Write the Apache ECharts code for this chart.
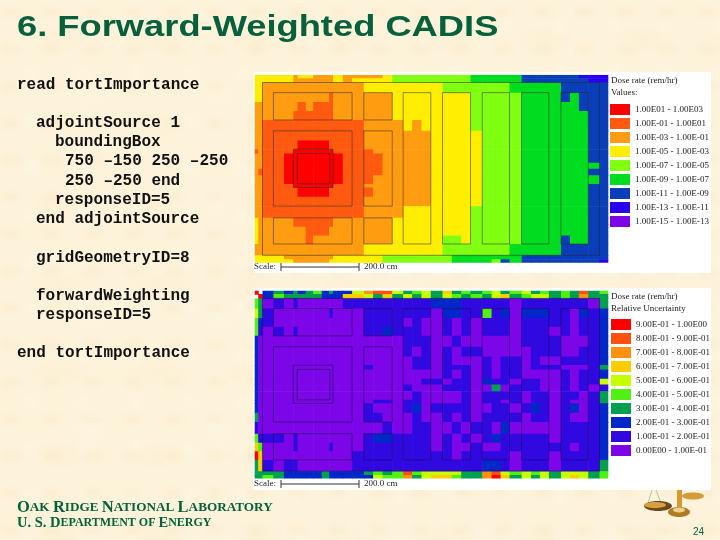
<!DOCTYPE html>
<html>
<head>
<meta charset="utf-8">
<title>Forward-Weighted CADIS</title>
<script src="https://cdn.jsdelivr.net/npm/echarts@6/dist/echarts.min.js"></script>
<style>
  html, body { margin: 0; padding: 0; }
  body {
    background-color: #fdf2da;
    background-image:
      radial-gradient(ellipse 14px 8px at 10px 12px, rgba(246, 222, 178, .22), transparent),
      radial-gradient(ellipse 10px 14px at 30px 26px, rgba(255, 252, 238, .28), transparent),
      radial-gradient(ellipse 30px 14px at 60px 40px, rgba(250, 230, 190, .2), transparent),
      radial-gradient(ellipse 24px 30px at 90px 90px, rgba(255, 250, 232, .25), transparent);
    background-size: 41px 37px, 53px 47px, 97px 83px, 131px 113px;
  }
  #chart { width: 720px; height: 540px; }
</style>
</head>
<body>
<div id="chart"></div>
<script>
// mesh edges in cm
const xEdges = [0, 9, 20, 48, 75, 99, 110, 131, 150, 172, 191, 201, 226, 250, 280, 304, 328, 353, 381, 404,
  428, 452, 482, 506, 530, 554, 584, 608, 631, 654, 685, 709, 732, 755, 786, 809, 832, 856, 885, 906]
const yEdges = [0, 9, 20, 46, 70, 93, 116, 144, 169, 191, 202, 226, 241, 258, 280, 289, 313, 337, 367, 390,
  412, 434, 463, 473, 482]

// dose rate class per mesh cell, one string per row (0 = lowest, 8 = highest), spaces only for reading
const doseRows = [
  '55555 6 55 666 5 6666 5 4 4444444 33333 222222 111',
  '55555 666666 56 5555 44444444 33333 222222 211',
  '55 666666666666 55555555 4444444 33333 22222',
  '55 66666666 7 666 666 5 5555 555 4444 4 333 3 2 3 2 22',
  '66 666 6 7 6 777 666 666 5 5555 555 44444 3333 33 2 22',
  '66 666 777777 666 666 5 5555 555 44444 3333 333 22',
  '66 777777777777 666 6 5 6 5 5 555 4 4444 3333 333 22',
  '66 777777777777 666 6 666 5 555 5 4444 3333 333 22',
  '66 7777 8888 7777 666 6 666 5 555 5 4444 3333 333 22',
  '76 777 888888 777 7 66 6 666 5 555 5 4444 3333 333 22',
  '66 77 88888888 77 77 6 6 666 5 555 5 4444 3333 333 22',
  '66 77 88888888 77 77 6 6 666 5 555 5 4444 3333 333 32',
  '67 77 88888888 77 77 6 6 666 5 555 5 4444 3333 333 22',
  '66 77 88888888 77 7 6 6 6 666 5 555 5 4444 3333 333 32',
  '66 777 888888 777 666 6 666 5 555 5 4444 3333 333 22',
  '66 7777 8888 7777 7 66 6 666 5 555 5 4444 3333 333 22',
  '66 777777777777 666 6 666 5 555 5 4444 3333 333 22',
  '66 777777777777 666 6 555 5 555 4 4444 3333 333 22',
  '56 666 777777 666 666 5 555 5 555 4 4444 3333 333 22',
  '56 6666 6 777 6 666 666 5 555 5 555 4 4444 3333 333 22',
  '56 66666 7 666 666 666 5 555 5 44 5 4 4444 3333 2 33 22',
  '66 666666666666 55555555 4444444 33333 22222',
  '5555 6666666 555 55 444444 4 33333 3 3 222222 222',
  '5555 5666665 555 55 4444444 33 33 4 2 3 222222 22 1'
]

// relative uncertainty class per mesh cell (0 = lowest, 9 = highest, x = no tally)
const errorRows = [
  '9x23232342 3225788534 5363434534 534343834',
  'x924333332 2266536353 5354343563 455343733',
  '4301010000 0011111111 1222111110 111111103',
  '5310000000 1000111111 1022114120 222110212',
  '4210000000 0000111101 0010101110 111110112',
  '4101010000 0000112111 0010101110 111010112',
  '2000000000 0000000011 1001000000 111100012',
  '2000000000 0000000010 1010110000 011100112',
  '2000000000 0000000001 1010001011 010011112',
  '2000000000 0000100001 1011101011 011100013',
  '2000000000 0000000000 0010101011 000010112',
  '2000000000 0000000000 1101102110 110010115',
  '2000000000 0000000010 0011100301 110010101',
  '2000000000 0000000001 0000101111 011011013',
  '2000000000 0000011011 0000101101 011010013',
  '2000000000 0000100012 0111100110 121012012',
  '3000000000 0000110001 0010101111 011010012',
  '1000000000 0000001001 1001011020 000011112',
  '4111010000 0000122111 1010101211 111011112',
  '6400010000 1000111111 1010010011 111110112',
  '9600000000 0001111111 1110111110 111011112',
  '3610110000 0001111111 1111112210 111011113',
  '3333222223 2222343484 5555337854 545355534',
  '3343222223 2222254473 5664337963 535356534'
]

// geometry outlines in cm: x0, x1, y0, y1
const geometryBoxes = [
  [20, 885, 20, 463],
  [48, 250, 46, 116], [280, 353, 46, 116],
  [48, 250, 144, 337], [280, 353, 144, 337],
  [48, 250, 367, 434], [280, 353, 367, 434],
  [381, 452, 46, 434], [482, 554, 46, 434], [584, 654, 46, 434],
  [685, 755, 46, 434], [786, 856, 46, 434],
  [99, 201, 191, 289], [109, 193, 202, 280]
]

const doseLabels = ['1.00E-15 - 1.00E-13', '1.00E-13 - 1.00E-11', '1.00E-11 - 1.00E-09', '1.00E-09 - 1.00E-07',
  '1.00E-07 - 1.00E-05', '1.00E-05 - 1.00E-03', '1.00E-03 - 1.00E-01', '1.00E-01 - 1.00E01', '1.00E01 - 1.00E03']
const doseColors = ['#7c06e8', '#2a00f0', '#0a3eb8', '#00dd20', '#80ff10', '#ffee00', '#ff9c10', '#ff5a10', '#ff0000']

const errorLabels = ['0.00E00 - 1.00E-01', '1.00E-01 - 2.00E-01', '2.00E-01 - 3.00E-01', '3.00E-01 - 4.00E-01',
  '4.00E-01 - 5.00E-01', '5.00E-01 - 6.00E-01', '6.00E-01 - 7.00E-01', '7.00E-01 - 8.00E-01',
  '8.00E-01 - 9.00E-01', '9.00E-01 - 1.00E00']
const errorColors = ['#7c06e8', '#3008e0', '#0028c8', '#00a050', '#50f010', '#c8ff00', '#ffcc00', '#ff9010', '#ff5010', '#ff0000']

const codeLines = [
  ['read tortImportance', 17, 85],
  ['adjointSource 1', 36, 123],
  ['boundingBox', 55, 142],
  ['750 \u2013150 250 \u2013250', 65, 161],
  ['250 \u2013250 end', 65, 181],
  ['responseID=5', 55, 200],
  ['end adjointSource', 36, 219],
  ['gridGeometryID=8', 36, 258],
  ['forwardWeighting', 36, 296],
  ['responseID=5', 36, 315],
  ['end tortImportance', 17, 353]
]

const GREEN = '#06603c'
const SERIF = '"Liberation Serif", serif'

const cells = (rows) => {
  const out = []
  rows.forEach((row, r) => {
    row.replace(/ /g, '').split('').forEach((c, i) => {
      if (c !== 'x') out.push([xEdges[i], xEdges[i + 1], yEdges[r], yEdges[r + 1], Number(c)])
    })
  })
  return out
}

// later cells overlap by a fraction of a pixel so no seams show between them
const renderCell = (params, api) => {
  const p0 = api.coord([api.value(0), api.value(2)])
  const p1 = api.coord([api.value(1), api.value(3)])
  return {
    type: 'rect',
    shape: { x: p0[0], y: p0[1], width: p1[0] - p0[0] + 0.6, height: p1[1] - p0[1] + 0.6 },
    style: { fill: api.visual('color') }
  }
}

const renderBox = (lineColor) => (params, api) => {
  const p0 = api.coord([api.value(0), api.value(2)])
  const p1 = api.coord([api.value(1), api.value(3)])
  return {
    type: 'rect',
    shape: { x: p0[0], y: p0[1], width: p1[0] - p0[0], height: p1[1] - p0[1] },
    style: { fill: 'none', stroke: lineColor, lineWidth: 0.7 }
  }
}

const axis = (type, gridIndex, max) => ({
  type: 'value', gridIndex, min: 0, max, show: false, inverse: type === 'y'
})

const pieces = (labels, colors) => labels.map((label, i) => ({ value: i, label, color: colors[i] }))

const legendMap = (seriesIndex, labels, colors, left, top) => ({
  type: 'piecewise',
  seriesIndex,
  dimension: 4,
  left,
  top,
  padding: 0,
  align: 'left',
  itemSymbol: 'rect',
  itemWidth: 20,
  itemHeight: 11,
  itemGap: 3,
  textGap: 5,
  selectedMode: false,
  hoverLink: false,
  pieces: pieces(labels, colors),
  textStyle: { fontFamily: SERIF, fontSize: 9, color: '#222' }
})

const text = (x, y, value, style) => ({
  type: 'text', x, y, silent: true,
  style: Object.assign({ text: value, verticalAlign: 'middle' }, style)
})
const small = (x, y, value) => text(x, y, value, { font: '9px ' + SERIF, fill: '#222' })
const seg = (x1, y1, x2, y2, stroke) => ({
  type: 'line', silent: true, shape: { x1, y1, x2, y2 }, style: { stroke: stroke || '#333', lineWidth: 1 }
})
const disc = (cx, cy, rx, ry, fill) => ({
  type: 'ellipse', silent: true, shape: { cx, cy, rx, ry }, style: { fill }
})

const capsStyle = (size) => ({
  fontFamily: SERIF, fontWeight: 'bold', fontSize: size, fill: GREEN, color: GREEN
})
const smallCaps = (x, y, parts, big, little) => ({
  type: 'text', x, y, silent: true,
  style: {
    text: parts.map((p) => '{b|' + p[0] + '}{s|' + p[1] + '}').join(''),
    verticalAlign: 'middle',
    rich: { b: capsStyle(big), s: capsStyle(little) }
  }
})

const scaleBar = (y) => [
  small(254, y, 'Scale:'),
  seg(281, y, 359, y), seg(281, y - 4, 281, y + 4), seg(359, y - 4, 359, y + 4),
  small(364, y, '200.0 cm')
]

const graphics = [
  { type: 'rect', silent: true, shape: { x: 253, y: 72, width: 458, height: 201 }, style: { fill: '#fff' } },
  { type: 'rect', silent: true, shape: { x: 253, y: 288, width: 458, height: 202 }, style: { fill: '#fff' } },
  Object.assign(text(17, 28, '6. Forward-Weighted CADIS', { font: 'bold 30px "Liberation Sans", sans-serif', fill: GREEN }), { scaleX: 1.21 }),
  small(611, 81, 'Dose rate (rem/hr)'), small(611, 93, 'Values:'),
  small(611, 297, 'Dose rate (rem/hr)'), small(611, 309, 'Relative Uncertainty'),
  ...scaleBar(267),
  ...scaleBar(484),
  ...codeLines.map((l) => text(l[1], l[2], l[0], { font: 'bold 16px "Liberation Mono", monospace', fill: '#111' })),
  smallCaps(17, 508, [['O', 'AK '], ['R', 'IDGE '], ['N', 'ATIONAL '], ['L', 'ABORATORY']], 16.5, 13.2),
  smallCaps(17, 523, [['U. S. D', 'EPARTMENT OF '], ['E', 'NERGY']], 14.5, 12),
  text(693, 532, '24', { font: '10px "Liberation Sans", sans-serif', fill: GREEN }),
  seg(652, 490, 648, 503, '#bbb'), seg(656, 490, 661, 503, '#bbb'),
  disc(658, 506, 14, 5, '#6b4a1e'), disc(655, 505, 11, 3, '#d9a040'),
  disc(693, 496, 11, 3.5, '#d69a3a'),
  { type: 'rect', silent: true, shape: { x: 677, y: 490, width: 5, height: 22 }, style: { fill: '#d8982e' } },
  disc(679, 512, 11, 5, '#b07a20'), disc(679, 510, 6, 2.5, '#f0d090')
]

const option = {
  animation: false,
  backgroundColor: 'transparent',
  grid: [
    { left: 254.7, top: 74.7, width: 353, height: 188 },
    { left: 254.7, top: 290.6, width: 353, height: 188 }
  ],
  xAxis: [axis('x', 0, 906), axis('x', 1, 906)],
  yAxis: [axis('y', 0, 482), axis('y', 1, 482)],
  visualMap: [
    legendMap(0, doseLabels, doseColors, 610, 104),
    legendMap(1, errorLabels, errorColors, 611, 319)
  ],
  series: [
    { type: 'custom', xAxisIndex: 0, yAxisIndex: 0, renderItem: renderCell, data: cells(doseRows), encode: { x: [0, 1], y: [2, 3] }, silent: true, clip: true },
    { type: 'custom', xAxisIndex: 1, yAxisIndex: 1, renderItem: renderCell, data: cells(errorRows), encode: { x: [0, 1], y: [2, 3] }, silent: true, clip: true },
    { type: 'custom', xAxisIndex: 0, yAxisIndex: 0, renderItem: renderBox('rgba(40,40,40,.75)'), data: geometryBoxes, encode: { x: [0, 1], y: [2, 3] }, silent: true, z: 3 },
    { type: 'custom', xAxisIndex: 1, yAxisIndex: 1, renderItem: renderBox('rgba(30,10,90,.8)'), data: geometryBoxes, encode: { x: [0, 1], y: [2, 3] }, silent: true, z: 3 }
  ],
  graphic: { elements: graphics }
}

const chart = echarts.init(document.getElementById('chart'), null, { renderer: 'canvas' })
chart.setOption(option)
</script>
</body>
</html>
